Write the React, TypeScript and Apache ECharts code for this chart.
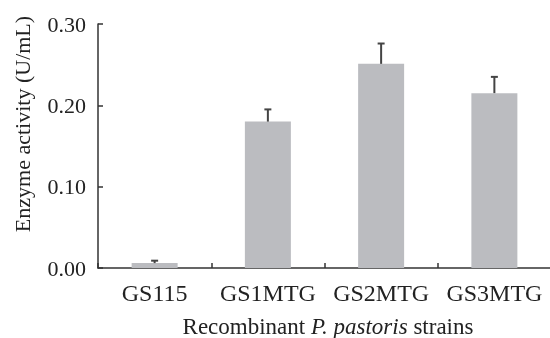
import React, { useEffect, useRef } from "react";
import * as echarts from "echarts";

const categories = ["GS115", "GS1MTG", "GS2MTG", "GS3MTG"];
const activity = [0.006, 0.18, 0.251, 0.215];
const errorUp = [0.003, 0.015, 0.025, 0.02];
const yTicks = [0, 0.1, 0.2, 0.3];
const xTitle = "Recombinant {i|P. pastoris} strains";
const yTitle = "Enzyme activity (U/mL)";

export default function App() {
  const ref = useRef<HTMLDivElement>(null);
  useEffect(() => {
    if (!ref.current) return;
    const chart = echarts.init(ref.current, undefined, { renderer: "svg" });
    const font = "Liberation Serif";
    const errData = categories.map((c, i) => [i, activity[i], activity[i] + errorUp[i]]);
    chart.setOption({
      animation: false,
      textStyle: { fontFamily: font },
      grid: { left: 98, top: 24, width: 453, height: 244, containLabel: false, outerBoundsMode: "none" },
      graphic: [
        {
          type: "text",
          x: 328,
          y: 326,
          style: {
            text: xTitle,
            fontFamily: font,
            fontSize: 23,
            fill: "#222",
            align: "center",
            verticalAlign: "middle",
            rich: { i: { fontStyle: "italic", fontFamily: font, fontSize: 23, fill: "#222" } },
          },
        },
        {
          type: "text",
          x: 22,
          y: 124,
          rotation: Math.PI / 2,
          style: {
            text: yTitle,
            fontFamily: font,
            fontSize: 22,
            fill: "#222",
            align: "center",
            verticalAlign: "middle",
          },
        },
      ],
      xAxis: {
        type: "category",
        data: categories,
        axisLine: { lineStyle: { color: "#333", width: 1.5 } },
        axisTick: { show: true, interval: 0, inside: true, length: 5, alignWithLabel: false, lineStyle: { color: "#333", width: 1.5 } },
        axisLabel: { interval: 0, color: "#222", fontFamily: font, fontSize: 24, margin: 13 },
      },
      yAxis: {
        type: "value",
        min: yTicks[0],
        max: yTicks[yTicks.length - 1],
        interval: 0.1,
        axisLine: { show: true, lineStyle: { color: "#333", width: 1.5 } },
        axisTick: { show: true, inside: true, length: 5, lineStyle: { color: "#333", width: 1.5 } },
        splitLine: { show: false },
        axisLabel: {
          color: "#222",
          fontFamily: font,
          fontSize: 22,
          margin: 12,
          formatter: (v: number) => v.toFixed(2),
        },
      },
      series: [
        {
          type: "bar",
          data: activity,
          barWidth: 46,
          itemStyle: { color: "#BBBCC0" },
          z: 2,
        },
        {
          type: "custom",
          data: errData,
          z: 3,
          renderItem: (params: any, api: any) => {
            const x = api.value(0);
            const lo = api.coord([x, api.value(1)]);
            const hi = api.coord([x, api.value(2)]);
            const half = 3.5;
            const style = { stroke: "#444", lineWidth: 2 };
            return {
              type: "group",
              children: [
                { type: "line", shape: { x1: lo[0], y1: lo[1], x2: hi[0], y2: hi[1] }, style },
                { type: "line", shape: { x1: hi[0] - half, y1: hi[1], x2: hi[0] + half, y2: hi[1] }, style },
              ],
            };
          },
        },
      ],
    });
    return () => chart.dispose();
  }, []);
  return <div ref={ref} style={{ position: "fixed", left: 0, top: 0, width: 550, height: 338 }} />;
}
